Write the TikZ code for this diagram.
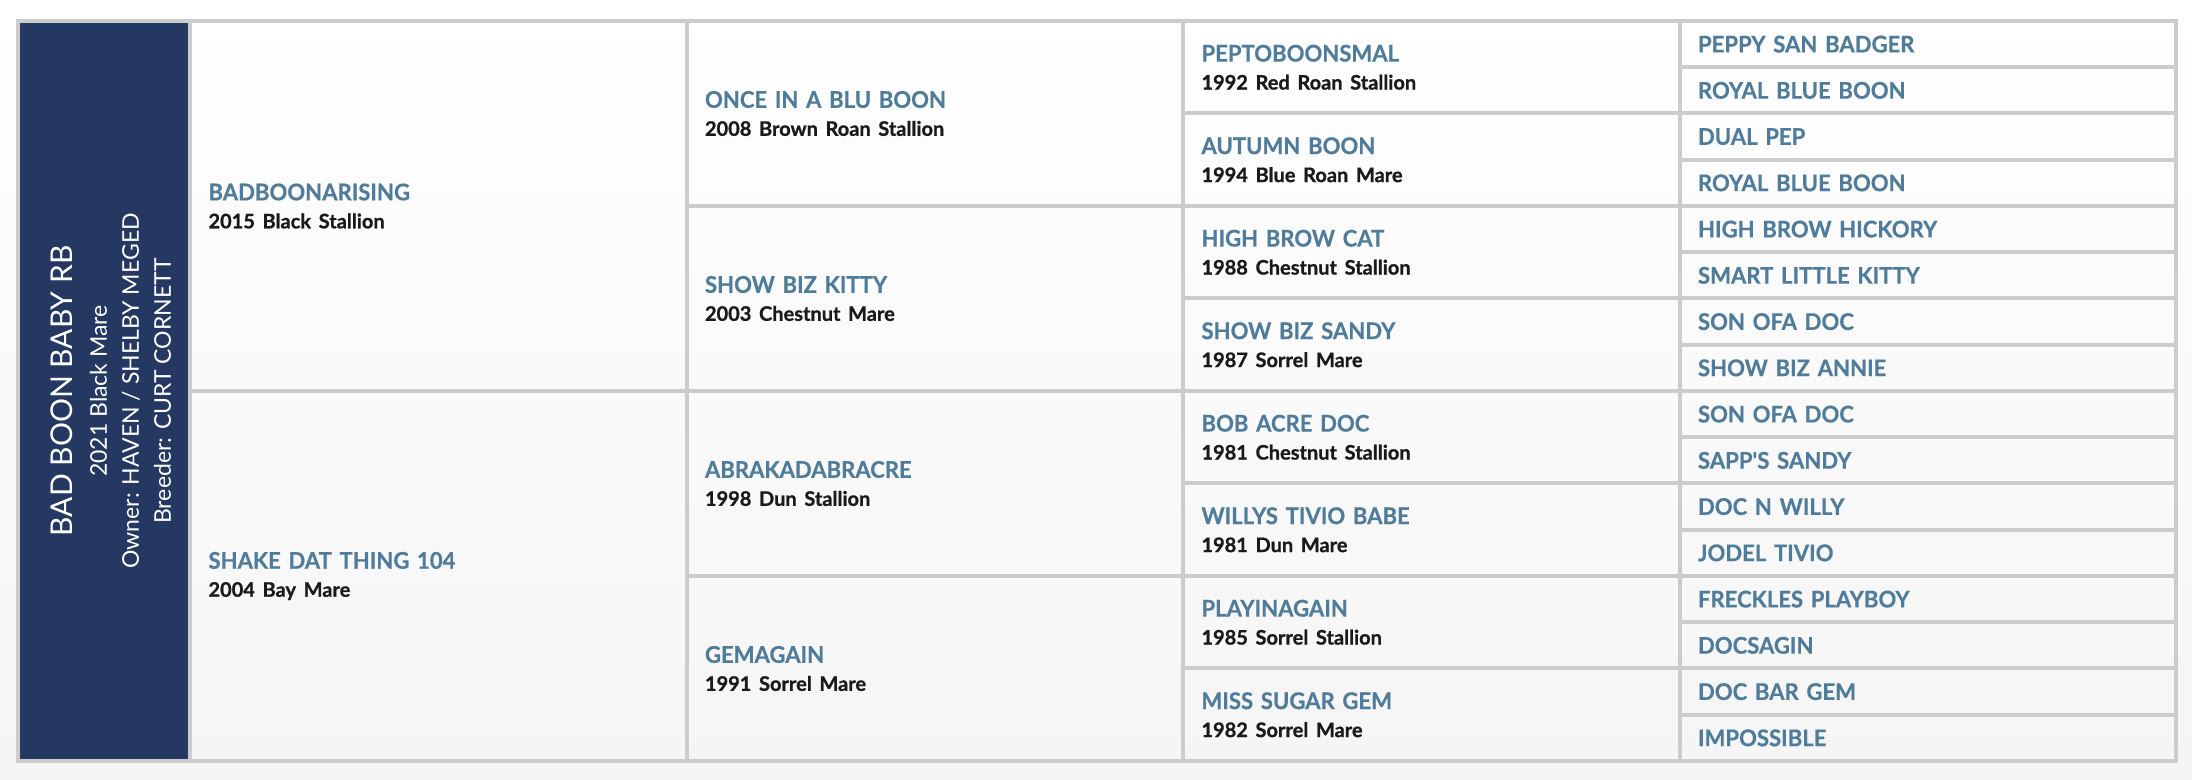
\documentclass[tikz,border=0pt]{standalone}
\usepackage{fontspec}
\setmainfont{Lato}
\newfontfamily\namefont{Lato}[BoldFeatures={FakeBold=0.5,FakeStretch=0.96}]
\newfontfamily\infofont{Lato}[BoldFeatures={FakeBold=0.9}]
\usetikzlibrary{positioning}
\definecolor{navyband}{RGB}{36,56,97}
\definecolor{namecol}{RGB}{80,124,155}
\definecolor{infocol}{RGB}{26,26,26}
\definecolor{gridcol}{RGB}{204,204,204}
\definecolor{pagebot}{RGB}{245,245,245}
\newcommand{\horse}[2]{{\namefont\bfseries\color{namecol}#1}\\{\infofont\fontsize{10}{10}\selectfont\bfseries\color{infocol}#2}}

\begin{document}
\begin{tikzpicture}[x=0.5pt,y=-0.5pt]
      \tikzstyle{cell}=[rectangle,draw=gridcol,line width=2pt,outer sep=0pt,inner xsep=9.25pt,inner ysep=0pt,minimum width=248.25pt,text width=229.75pt,align=left,anchor=north west,font=\fontsize{11.5}{14}\selectfont]
      \tikzstyle{gen1}=[cell,minimum height=185pt]
      \tikzstyle{gen2}=[cell,minimum height=92.5pt]
      \tikzstyle{gen3}=[cell,minimum height=46.25pt]
      \tikzstyle{gen4}=[cell,minimum height=23.125pt,text=namecol,font=\namefont\fontsize{11.5}{14}\selectfont\bfseries]
      \tikzstyle{band}=[rectangle,draw=gridcol,fill=navyband,line width=2pt,outer sep=0pt,minimum width=86pt,minimum height=370pt,anchor=north west]

      \shade[top color=white,bottom color=pagebot] (0,0) rectangle (2192,780);
      \useasboundingbox (0,0) rectangle (2192,780);

      % the foal
      \node[band](foal) at (18,21){};
      \node[rotate=90,text=white,align=center,font=\fontsize{11.5}{16}\selectfont](foalname)
        at ([xshift=3.5pt]foal.center)
        {{\fontsize{15}{15}\selectfont BAD BOON BABY RB}\\[1pt]
         2021 Black Mare\\Owner: HAVEN / SHELBY MEGED\\Breeder: CURT CORNETT};

      % parents
      \node[gen1](s) at (foal.north east){\horse{BADBOONARISING}{2015 Black Stallion}};
      \node[gen1](d)[below=0pt of s]{\horse{SHAKE DAT THING 104}{2004 Bay Mare}};

      % grandparents
      \node[gen2](ss) at (s.north east){\horse{ONCE IN A BLU BOON}{2008 Brown Roan Stallion}};
      \node[gen2](sd)[below=0pt of ss]{\horse{SHOW BIZ KITTY}{2003 Chestnut Mare}};
      \node[gen2](ds)[below=0pt of sd]{\horse{ABRAKADABRACRE}{1998 Dun Stallion}};
      \node[gen2](dd)[below=0pt of ds]{\horse{GEMAGAIN}{1991 Sorrel Mare}};

      % great grandparents
      \node[gen3](sss) at (ss.north east){\horse{PEPTOBOONSMAL}{1992 Red Roan Stallion}};
      \node[gen3](ssd)[below=0pt of sss]{\horse{AUTUMN BOON}{1994 Blue Roan Mare}};
      \node[gen3](sds)[below=0pt of ssd]{\horse{HIGH BROW CAT}{1988 Chestnut Stallion}};
      \node[gen3](sdd)[below=0pt of sds]{\horse{SHOW BIZ SANDY}{1987 Sorrel Mare}};
      \node[gen3](dss)[below=0pt of sdd]{\horse{BOB ACRE DOC}{1981 Chestnut Stallion}};
      \node[gen3](dsd)[below=0pt of dss]{\horse{WILLYS TIVIO BABE}{1981 Dun Mare}};
      \node[gen3](dds)[below=0pt of dsd]{\horse{PLAYINAGAIN}{1985 Sorrel Stallion}};
      \node[gen3](ddd)[below=0pt of dds]{\horse{MISS SUGAR GEM}{1982 Sorrel Mare}};

      % fourth generation
      \node[gen4](ssss) at (sss.north east){PEPPY SAN BADGER};
      \node[gen4](sssd)[below=0pt of ssss]{ROYAL BLUE BOON};
      \node[gen4](ssds)[below=0pt of sssd]{DUAL PEP};
      \node[gen4](ssdd)[below=0pt of ssds]{ROYAL BLUE BOON};
      \node[gen4](sdss)[below=0pt of ssdd]{HIGH BROW HICKORY};
      \node[gen4](sdsd)[below=0pt of sdss]{SMART LITTLE KITTY};
      \node[gen4](sdds)[below=0pt of sdsd]{SON OFA DOC};
      \node[gen4](sddd)[below=0pt of sdds]{SHOW BIZ ANNIE};
      \node[gen4](dsss)[below=0pt of sddd]{SON OFA DOC};
      \node[gen4](dssd)[below=0pt of dsss]{SAPP\textquotesingle S SANDY};
      \node[gen4](dsds)[below=0pt of dssd]{DOC N WILLY};
      \node[gen4](dsdd)[below=0pt of dsds]{JODEL TIVIO};
      \node[gen4](ddss)[below=0pt of dsdd]{FRECKLES PLAYBOY};
      \node[gen4](ddsd)[below=0pt of ddss]{DOCSAGIN};
      \node[gen4](ddds)[below=0pt of ddsd]{DOC BAR GEM};
      \node[gen4](dddd)[below=0pt of ddds]{IMPOSSIBLE};
\end{tikzpicture}
\end{document}
